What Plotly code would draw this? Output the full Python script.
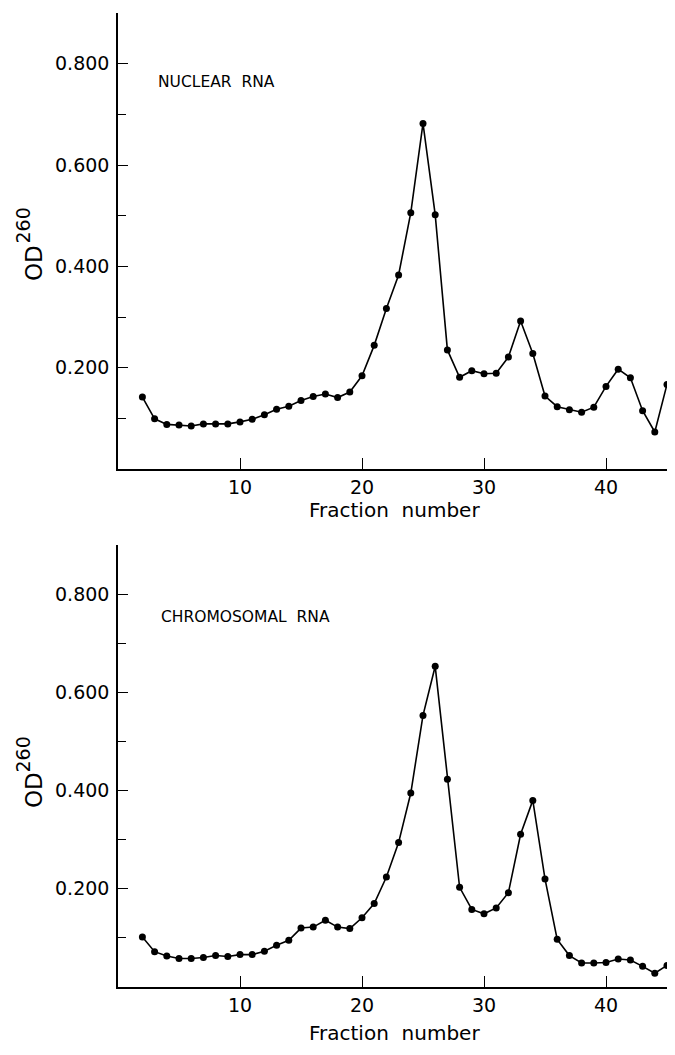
import plotly.graph_objects as go

fractions = list(range(2, 46))

nuclear_od = [0.142, 0.099, 0.088, 0.087, 0.085, 0.089, 0.089, 0.089, 0.093, 0.098,
              0.107, 0.118, 0.124, 0.135, 0.143, 0.148, 0.141, 0.152, 0.184, 0.244,
              0.317, 0.383, 0.506, 0.682, 0.502, 0.235, 0.181, 0.194, 0.188, 0.189,
              0.221, 0.292, 0.228, 0.144, 0.123, 0.117, 0.112, 0.122, 0.163, 0.197,
              0.180, 0.115, 0.073, 0.167]

chromosomal_od = [0.102, 0.072, 0.063, 0.058, 0.058, 0.060, 0.064, 0.062, 0.066, 0.066,
                  0.073, 0.085, 0.095, 0.120, 0.122, 0.136, 0.122, 0.119, 0.141, 0.170,
                  0.224, 0.294, 0.395, 0.553, 0.653, 0.423, 0.203, 0.158, 0.149, 0.161,
                  0.192, 0.311, 0.380, 0.220, 0.097, 0.064, 0.049, 0.049, 0.050, 0.057,
                  0.055, 0.042, 0.028, 0.044]

y_tickvals = [0.2, 0.4, 0.6, 0.8]
y_ticktext = ["0.200", "0.400", "0.600", "0.800"]
y_minorvals = [0.1, 0.3, 0.5, 0.7]
x_tickvals = [10, 20, 30, 40]
x_ticktext = ["10", "20", "30", "40"]

panel_labels = ["NUCLEAR  RNA", "CHROMOSOMAL  RNA"]
x_title = "Fraction  number"
y_title_main = "OD"
y_title_sup = "260"

FONT = "DejaVu Sans"
# The page body keeps its default 8px margin, so the figure is drawn from
# (8, 8) and can use at most 659 px of width; size it to fit exactly.
OFF = 8
W, H = 675 - 2 * OFF, 1055 - 2 * OFF
L = 118 - OFF


def py(y_ref):
    """reference pixel row -> paper fraction"""
    return 1 - (y_ref - OFF) / H


def px(x_ref):
    """reference pixel column -> paper fraction"""
    return (x_ref - OFF - L) / (W - L)


fig = go.Figure()
fig.add_trace(go.Scatter(x=fractions, y=nuclear_od, mode="lines+markers",
                         line=dict(color="black", width=1.6),
                         marker=dict(color="black", size=7),
                         xaxis="x", yaxis="y", showlegend=False))
fig.add_trace(go.Scatter(x=fractions, y=chromosomal_od, mode="lines+markers",
                         line=dict(color="black", width=1.6),
                         marker=dict(color="black", size=7),
                         xaxis="x2", yaxis="y2", showlegend=False))


def xax(anchor):
    return dict(range=[0, 45], tickvals=x_tickvals, ticktext=x_ticktext,
                ticks="inside", ticklen=11, tickwidth=1.3, tickcolor="black",
                showline=True, linecolor="black", linewidth=1.5,
                showgrid=False, zeroline=False, anchor=anchor,
                tickfont=dict(family=FONT, size=19, color="black"),
                domain=[0, 1])


def yax(anchor, dom):
    return dict(range=[0, 0.9], tickvals=y_tickvals, ticktext=y_ticktext,
                ticks="inside", ticklen=10, tickwidth=1.2, tickcolor="black",
                minor=dict(tickvals=y_minorvals, ticks="inside", ticklen=8,
                           tickwidth=1.2, tickcolor="black"),
                showline=True, linecolor="black", linewidth=1.5,
                showgrid=False, zeroline=False, anchor=anchor, domain=dom,
                ticklabelstandoff=3,
                tickfont=dict(family=FONT, size=19, color="black"))


top_dom = [py(469), py(13)]
bot_dom = [py(987), py(545)]

annotations = []
for i, (xr, yr, lx, ly) in enumerate([("x", "y", 3.1, 0.763), ("x2", "y2", 3.35, 0.753)]):
    annotations.append(dict(text=panel_labels[i], xref=xr, yref=yr, x=lx, y=ly,
                            xanchor="left", yanchor="middle", showarrow=False,
                            font=dict(family=FONT, size=15.5, color="black")))

# x-axis titles
annotations.append(dict(text=x_title, xref="paper", yref="paper",
                        x=px(394), y=py(510),
                        xanchor="center", yanchor="middle", showarrow=False,
                        font=dict(family=FONT, size=20, color="black")))
annotations.append(dict(text=x_title, xref="paper", yref="paper",
                        x=px(394), y=0,
                        xanchor="center", yanchor="bottom", showarrow=False,
                        font=dict(family=FONT, size=20, color="black")))

# y-axis titles: "OD" with raised "260"
for od_y, sup_y in [(263, 226), (790, 755)]:
    annotations.append(dict(text=y_title_main, xref="paper", yref="paper",
                            x=px(34), y=py(od_y), textangle=-90,
                            xanchor="center", yanchor="middle", showarrow=False,
                            font=dict(family=FONT, size=23, color="black")))
    annotations.append(dict(text=y_title_sup, xref="paper", yref="paper",
                            x=px(22.5), y=py(sup_y), textangle=-90,
                            xanchor="center", yanchor="middle", showarrow=False,
                            font=dict(family=FONT, size=19, color="black")))

fig.update_layout(
    width=W, height=H,
    margin=dict(l=L, r=0, t=0, b=0),
    paper_bgcolor="white", plot_bgcolor="white",
    xaxis=xax("y"), yaxis=yax("x", top_dom),
    xaxis2=xax("y2"), yaxis2=yax("x2", bot_dom),
    annotations=annotations,
)

fig.write_html("out.html")
